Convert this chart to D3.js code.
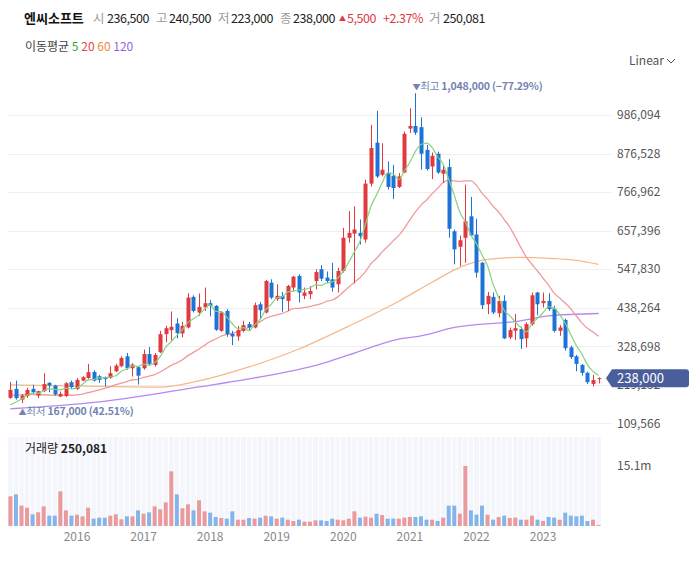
<!DOCTYPE html>
<html><head><meta charset="utf-8">
<script src="https://cdn.jsdelivr.net/npm/d3@7"></script>
<style>
body{margin:0;background:#fff;}
svg{display:block;font-family:"Noto Sans CJK KR","Noto Sans",sans-serif;}
</style></head>
<body><svg id="c" width="696" height="561"></svg>
<script>
// ---------- DATA ----------
const startMonth = new Date(2015, 0, 1);
const open  = [182000,207500,177000,187000,207500,188500,201000,224500,217000,186000,187000,226500,207500,231000,238500,255500,243500,240500,238500,257500,272000,300000,266000,269000,266000,306500,275500,311500,363000,374500,393500,365000,382000,469000,424500,439000,451000,443500,372500,429000,364000,356500,372500,391500,382000,448000,424500,509500,462500,471500,457500,495500,528500,472000,476500,514000,547500,524000,519000,505000,542500,637000,649000,651000,632000,791000,907500,816000,821500,813500,781500,822500,947500,955000,951500,887000,839500,876000,819000,838000,655500,611500,637000,698000,646500,566000,448000,469000,422500,457500,354000,372500,377500,351000,391500,481500,451000,457500,436000,372500,403500,325500,300000,275500,253000,221500,236500];
const high  = [227000,231000,193000,210500,219000,202500,252000,226500,219000,200000,226500,231000,238000,243500,278500,260500,247000,242500,272000,278500,300000,309500,280500,272000,319000,326500,309500,372500,386500,427500,408500,398000,479500,473500,478500,495500,459500,445500,429000,434000,372500,386500,401000,398000,453000,454500,517000,519000,505000,483000,503000,528500,533000,495500,500000,547500,559500,541000,566000,552000,665000,712500,726500,689000,802000,958000,998000,906000,854000,844500,821000,939000,1005000,1048000,979500,901000,879500,882000,844500,860500,660500,643500,788000,753000,691000,568000,483000,481500,472000,473500,382000,420000,384000,396500,481500,483000,481500,479500,443500,388500,407500,330500,304000,278500,256500,247000,240500];
const low   = [179000,177000,167000,182000,193500,181000,198000,198000,188500,184000,184000,207500,204500,229500,236000,228000,224500,215000,236000,255000,269000,262000,242500,219500,262000,273500,270500,309500,340000,344500,351000,354000,379500,424500,415000,429000,413500,372500,370000,355500,332000,344500,368000,372500,379500,405500,422000,462500,457500,426500,429000,486000,453000,462500,462500,490500,514000,507500,484000,481500,538000,623000,507500,618000,623000,783000,807000,811500,774000,747500,778500,821000,934500,929500,830500,828500,804000,819000,792500,637000,561500,556500,566000,640000,524000,434000,420000,420000,410500,349000,349000,346500,321000,325000,387000,417000,439000,429000,368000,358500,316000,292500,257500,245000,221000,214500,223000];
const close = [204500,181000,188500,204500,198000,201000,221000,217000,191500,193500,223500,212500,233000,240500,255000,231000,233000,235000,252000,273500,295500,266000,276500,245000,306500,278500,304000,363000,380000,384000,366000,386500,467000,429000,440500,451000,443500,375500,424500,363000,356500,374500,388500,382000,445500,431000,514000,467000,472000,462500,500000,526500,481500,481500,486000,539500,521000,514000,495500,542500,637000,651000,660500,641500,791000,892000,811500,830500,781500,778500,811500,932500,955000,936000,876000,832500,870000,822500,830500,662500,604000,630000,684000,643500,538000,445500,472000,424500,457500,351000,374500,380000,349000,391500,473500,448000,457500,434000,372500,382000,323000,297500,278500,253000,226500,232500,238000];
const volume = [7.47,7.97,5.12,4.61,2.94,3.44,4.95,2.60,2.60,8.73,3.94,2.60,2.85,2.43,4.61,1.85,2.10,2.10,2.60,2.94,1.68,2.43,2.43,3.94,3.10,3.44,4.95,4.20,5.96,13.76,7.97,4.45,5.45,3.94,6.46,3.69,3.36,2.27,2.01,1.85,3.69,1.59,1.59,2.01,1.85,2.10,2.60,2.43,1.85,2.10,1.59,1.26,1.59,1.09,1.09,1.43,1.43,1.26,1.85,1.59,1.43,1.85,3.69,2.10,2.35,2.10,3.10,2.77,1.85,1.85,1.85,2.10,2.27,2.27,2.43,1.59,1.59,1.26,2.10,5.12,5.12,3.10,15.1,3.94,2.85,5.12,2.85,1.59,2.27,2.60,2.01,2.10,1.59,1.59,2.60,1.59,1.26,2.27,2.10,1.59,3.36,2.60,2.43,2.60,1.26,1.59,0.250081]; // millions
// closes of the 19 months before Jan 2015 (only feed the first moving-average points)
const priorCloses = [185000,170000,180000,200000,215000,225000,230000,215000,200000,205000,215000,210000,195000,180000,160000,140000,145000,155000,165000];
// 60- and 120-month averages at these month indexes
const ma60Idx  = [0,16,27,34,43,52,61,70,76,81,86,92,97,102,106];
const ma60Val  = [218900,214600,212400,230200,269800,320800,385900,456700,510500,553000,575600,581200,578400,572800,561400];
const ma120Idx = [0,16,34,43,56,61,70,74,80,92,97,106];
const ma120Val = [150900,170700,213200,235800,278300,303800,349100,358400,382200,400900,415100,421800];
const yTicks = [109566,219132,328698,438264,547830,657396,766962,876528,986094];
const yearLabels = ["2016","2017","2018","2019","2020","2021","2022","2023"];
const header = {name:"엔씨소프트", open:"236,500", high:"240,500", low:"223,000", close:"238,000", chg:"5,500", pct:"+2.37%", vol:"250,081"};
const maPeriods = ["5","20","60","120"];

// ---------- SETUP ----------
const N = close.length;
const months = d3.range(N).map(i => d3.timeMonth.offset(startMonth, i));
const svg = d3.select("#c");
const RED = "#e0393e", BLUE = "#1e74d6";
const VRED = "#ea9a9d", VBLUE = "#84b5ea";
const maColors = ["#86d27f","#f29a9c","#f7b98a","#b48af0"];
const legColors = ["#3aa43a","#e5484f","#ef8743","#9563e0"];

const x = d3.scaleBand().domain(d3.range(N)).range([7.63, 601.3]).padding(0);
const cx = i => x(i) + x.bandwidth() / 2;
const y = d3.scaleLinear().domain([109566, 986094]).range([423.3, 115]);
const yv = d3.scaleLinear().domain([0, 15.1]).range([526, 466]);

// gridlines
svg.append("g").selectAll("line").data(yTicks).join("line")
  .attr("x1", 8).attr("x2", 611).attr("y1", d => Math.round(y(d)) + 0.5).attr("y2", d => Math.round(y(d)) + 0.5)
  .attr("stroke", "#eeeeee").attr("stroke-width", 1);

// y axis labels
const yAxis = d3.axisRight(y).tickValues(yTicks).tickSize(0).tickPadding(0).tickFormat(d3.format(","));
const ga = svg.append("g").attr("transform", "translate(617,0)").call(yAxis);
ga.select(".domain").remove();
ga.selectAll("text").attr("fill", "#555").attr("font-size", 12).attr("font-family", "'Noto Sans CJK KR','Noto Sans',sans-serif");

// volume panel background stripes
svg.append("g").selectAll("rect").data(d3.range(N)).join("rect")
  .attr("x", i => x(i) + 0.5).attr("width", x.bandwidth() - 1)
  .attr("y", 437).attr("height", 89).attr("fill", "#f4f6fb");

// volume bars
svg.append("g").selectAll("rect").data(d3.range(N)).join("rect")
  .attr("x", i => cx(i) - 2).attr("width", 4)
  .attr("y", i => yv(volume[i])).attr("height", i => yv(0) - yv(volume[i]))
  .attr("fill", i => close[i] >= open[i] ? VRED : VBLUE);

// moving averages
const allCloses = priorCloses.concat(close);
const P = priorCloses.length;
function sma(n) {
  return d3.range(N).map(i => d3.mean(allCloses.slice(P + i - n + 1, P + i + 1)));
}
const line = d3.line().x(d => d[0]).y(d => y(d[1])).curve(d3.curveMonotoneX);
const ma5 = sma(5), ma20 = sma(20);
const maSeries = [
  d3.range(N).map(i => [cx(i), ma5[i]]),
  d3.range(N).map(i => [cx(i), ma20[i]]),
  ma60Idx.map((k, j) => [cx(k), ma60Val[j]]),
  ma120Idx.map((k, j) => [cx(k), ma120Val[j]])
];
[3,2,1].forEach(k => {
  svg.append("path").attr("d", line(maSeries[k])).attr("fill", "none")
    .attr("stroke", maColors[k]).attr("stroke-width", 1.3);
});

// candles
const cg = svg.append("g");
cg.selectAll("line").data(d3.range(N)).join("line")
  .attr("x1", i => Math.round(cx(i)) + 0.5).attr("x2", i => Math.round(cx(i)) + 0.5)
  .attr("y1", i => y(high[i])).attr("y2", i => y(low[i]))
  .attr("stroke", i => close[i] >= open[i] ? RED : BLUE).attr("stroke-width", 1);
cg.selectAll("rect").data(d3.range(N)).join("rect")
  .attr("x", i => Math.round(cx(i)) - 1.5).attr("width", 4)
  .attr("y", i => y(Math.max(open[i], close[i])))
  .attr("height", i => Math.max(1, Math.abs(y(open[i]) - y(close[i]))))
  .attr("fill", i => close[i] >= open[i] ? RED : BLUE);

svg.append("path").attr("d", line(maSeries[0])).attr("fill", "none")
  .attr("stroke", maColors[0]).attr("stroke-width", 1.2);

// high / low annotations
const iHi = d3.maxIndex(high), iLo = d3.minIndex(low);
const hiT = svg.append("text").attr("x", cx(iHi) - 3).attr("y", y(high[iHi]) - 3)
  .attr("font-size", 10.5).attr("fill", "#7483b4").attr("letter-spacing", -0.2);
hiT.append("tspan").text("▼").attr("font-size", 8);
hiT.append("tspan").text("최고 ");
hiT.append("tspan").attr("font-weight", "bold")
  .text(d3.format(",")(high[iHi]) + " (" + d3.format(".2%")(close[N-1] / high[iHi] - 1) + ")");
const loT = svg.append("text").attr("x", cx(iLo) - 3).attr("y", y(low[iLo]) + 12)
  .attr("font-size", 10.5).attr("fill", "#7483b4").attr("letter-spacing", -0.2);
loT.append("tspan").text("▲").attr("font-size", 8);
loT.append("tspan").text("최저 ");
loT.append("tspan").attr("font-weight", "bold")
  .text(d3.format(",")(low[iLo]) + " (" + d3.format(".2%")(close[N-1] / low[iLo] - 1) + ")");

// current price tag
const ty = y(close[N-1]);
svg.append("path")
  .attr("d", `M606,${ty} L612,${ty-9} L686,${ty-9} Q689,${ty-9} 689,${ty-6} L689,${ty+6} Q689,${ty+9} 686,${ty+9} L612,${ty+9} Z`)
  .attr("fill", "#4b5e9c");
svg.append("text").attr("x", 617).attr("y", ty + 4.5).attr("fill", "#fff").attr("font-size", 13)
  .text(d3.format(",")(close[N-1]));

// x axis year labels
svg.append("g").selectAll("text").data(yearLabels).join("text")
  .attr("x", d => cx(months.findIndex(m => m.getFullYear() === +d && m.getMonth() === 0)))
  .attr("y", 541).attr("text-anchor", "middle").attr("font-size", 12).attr("fill", "#888")
  .text(d => d);

// volume labels
const vt = svg.append("text").attr("x", 25).attr("y", 453).attr("font-size", 12).attr("fill", "#222");
vt.append("tspan").text("거래량 ");
vt.append("tspan").attr("font-weight", "bold").text(header.vol);
svg.append("text").attr("x", 617).attr("y", 470).attr("font-size", 12).attr("fill", "#555").text("15.1m");

// header
const h = svg.append("g").attr("font-size", 12.5);
h.append("text").attr("x", 24).attr("y", 23).attr("font-size", 13).attr("font-weight", "bold").attr("fill", "#111").text(header.name);
const parts = [
  [93, "시", "#999"], [107, header.open, "#222"],
  [156, "고", "#999"], [169, header.high, "#222"],
  [218, "저", "#999"], [231, header.low, "#222"],
  [280, "종", "#999"], [293, header.close, "#222"],
  [347, header.chg, RED], [383, header.pct, RED],
  [429, "거", "#999"], [443, header.vol, "#222"]
];
parts.forEach(p => h.append("text").attr("x", p[0]).attr("y", 23).attr("fill", p[2])
  .attr("letter-spacing", /\d/.test(p[1]) ? -0.45 : 0).text(p[1]));
h.append("text").attr("x", 339).attr("y", 21).attr("font-size", 7).attr("fill", RED).text("▲");

// MA legend
const lg = svg.append("text").attr("x", 25).attr("y", 51).attr("font-size", 12);
lg.append("tspan").attr("fill", "#444").text("이동평균 ");
maPeriods.forEach((p, k) => lg.append("tspan").attr("fill", legColors[k]).text(p + " "));

// Linear dropdown
svg.append("text").attr("x", 629).attr("y", 65).attr("font-size", 12).attr("fill", "#555").text("Linear");
svg.append("path").attr("d", "M667,59 L671,63 L675,59").attr("fill", "none").attr("stroke", "#555").attr("stroke-width", 1);
</script></body></html>
